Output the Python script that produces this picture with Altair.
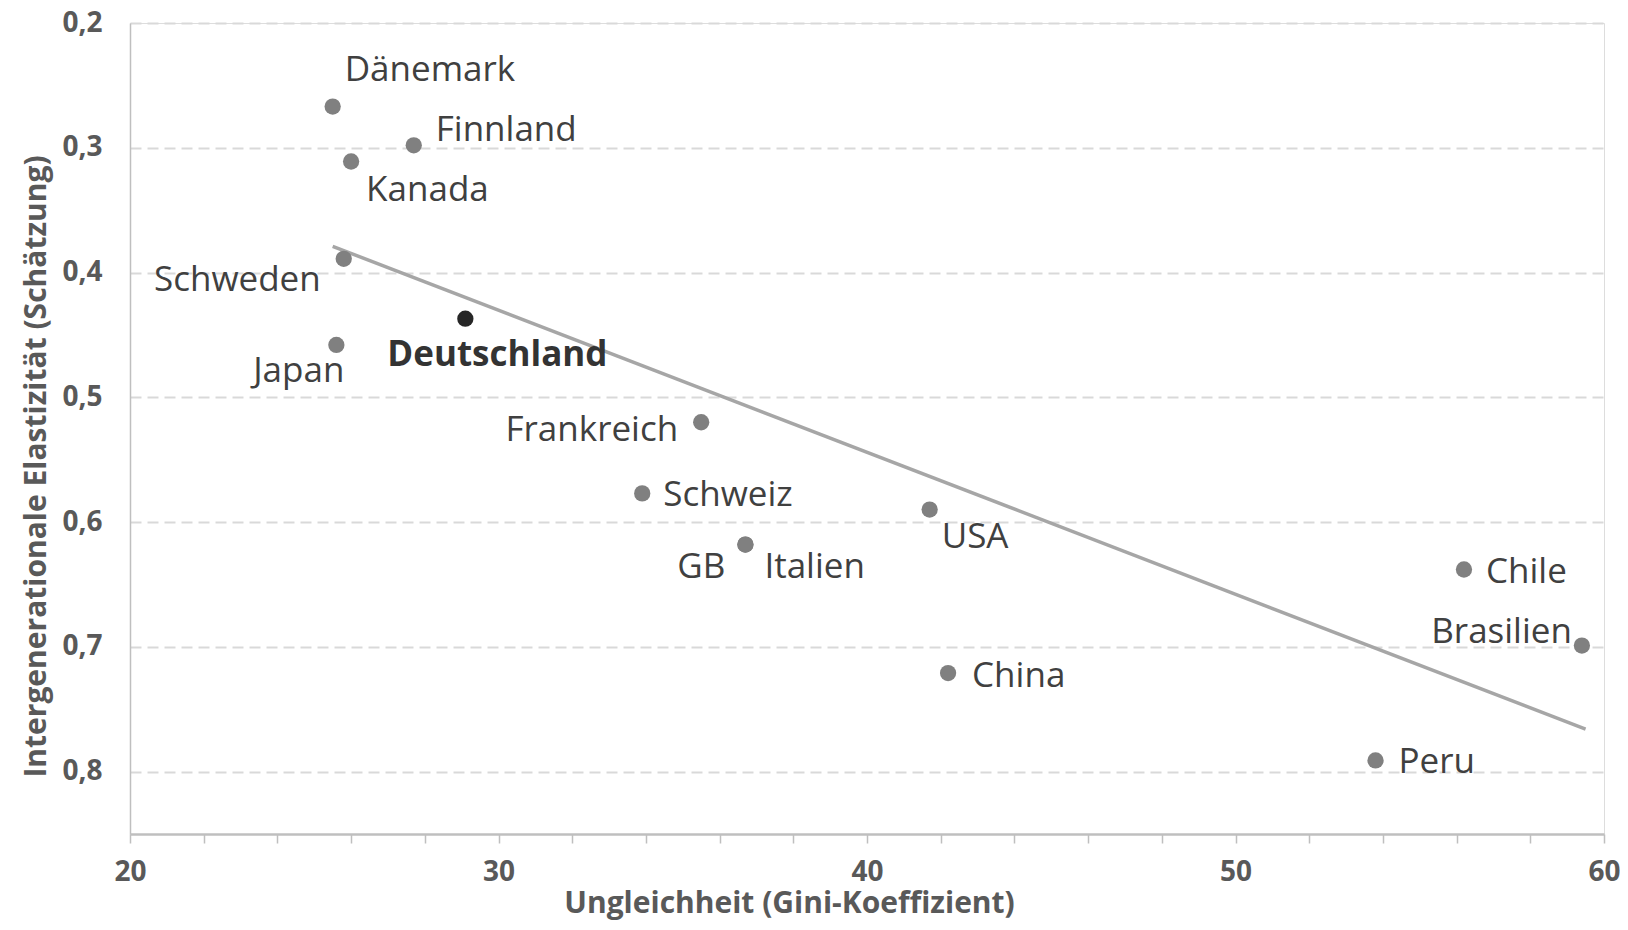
import altair as alt
import pandas as pd

# ---- data ----
countries = ["Dänemark", "Finnland", "Kanada", "Schweden", "Deutschland", "Japan",
             "Frankreich", "Schweiz", "USA", "GB", "Italien", "Chile", "Brasilien",
             "China", "Peru"]
gini = [25.5, 27.7, 26.0, 25.8, 29.1, 25.6, 35.5, 33.9, 41.7, 36.7, 36.7,
        56.2, 59.4, 42.2, 53.8]
elasticity = [0.267, 0.298, 0.311, 0.389, 0.437, 0.458, 0.520, 0.577, 0.590,
              0.618, 0.618, 0.638, 0.699, 0.721, 0.791]

trend_gini = [25.5, 59.5]
trend_elasticity = [0.379, 0.766]

x_ticks = list(range(20, 61, 2))
y_ticks = [0.2, 0.3, 0.4, 0.5, 0.6, 0.7, 0.8]

x_title = "Ungleichheit (Gini-Koeffizient)"
y_title = "Intergenerationale Elastizität (Schätzung)"
highlight = "Deutschland"

# ---- label placement (layout) ----
label_style = {
    "Dänemark": (12, -37, "left"),
    "Finnland": (22, -15, "left"),
    "Kanada": (15, 29, "left"),
    "Schweden": (-23, 21, "right"),
    "Deutschland": (-78, 36, "left"),
    "Japan": (8, 26, "right"),
    "Frankreich": (-23, 8, "right"),
    "Schweiz": (21, 2, "left"),
    "USA": (12, 27, "left"),
    "GB": (-20, 22, "right"),
    "Italien": (19, 22, "left"),
    "Chile": (22, 3, "left"),
    "Brasilien": (-10, -14, "right"),
    "China": (24, 3, "left"),
    "Peru": (23, 2, "left"),
}

df = pd.DataFrame({"country": countries, "gini": gini, "elasticity": elasticity})
df["is_de"] = df["country"] == highlight
trend = pd.DataFrame({"gini": trend_gini, "elasticity": trend_elasticity})

FONT = "Open Sans"
AXIS_COLOR = "#595959"

x_scale = alt.Scale(domain=[20, 60], nice=False, zero=False)
y_scale = alt.Scale(domain=[0.2, 0.85], reverse=True, nice=False, zero=False)

x_enc = alt.X("gini:Q", scale=x_scale, axis=alt.Axis(
    title=x_title, values=x_ticks,
    labelExpr="datum.value % 10 == 0 ? datum.label : ''",
    grid=False, domainColor="#bfbfbf", domainWidth=2.5,
    tickColor="#bfbfbf", tickWidth=1.5, tickSize=9,
    labelFont=FONT, labelFontSize=28, labelFontWeight="bold", labelColor=AXIS_COLOR,
    labelPadding=15, labelFlush=False,
    titleFont=FONT, titleFontSize=30, titleFontWeight="bold", titleColor=AXIS_COLOR,
    titlePadding=2, titleAnchor="start", titleAlign="center", titleX=659))
y_enc = alt.Y("elasticity:Q", scale=y_scale, axis=alt.Axis(
    title=y_title, values=y_ticks,
    labelExpr="replace(format(datum.value, '.1f'), '.', ',')",
    grid=True, gridColor="#d9d9d9", gridDash=[11, 6], gridWidth=2,
    domainColor="#bfbfbf", domainWidth=1.5, ticks=False,
    labelFont=FONT, labelFontSize=28, labelFontWeight="bold", labelColor=AXIS_COLOR,
    labelPadding=28, labelBaseline="middle",
    titleFont=FONT, titleFontSize=30, titleFontWeight="bold", titleColor=AXIS_COLOR,
    titlePadding=10, titleAlign="center", titleY=443))

base = alt.Chart(df)

line = alt.Chart(trend).mark_line(color="#a6a6a6", strokeWidth=3.5).encode(
    x=x_enc, y=y_enc)

points = base.mark_circle(size=265, opacity=1).encode(
    x=alt.X("gini:Q", scale=x_scale),
    y=alt.Y("elasticity:Q", scale=y_scale),
    color=alt.condition(alt.datum.is_de, alt.value("#262626"), alt.value("#808080")),
)

labels = []
for name, (dx, dy, align) in label_style.items():
    labels.append(
        base.transform_filter(alt.datum.country == name).mark_text(
            dx=dx, dy=dy, align=align, baseline="middle", font=FONT, fontSize=35,
            fontWeight="bold" if name == highlight else "normal",
            color="#404040" if name != highlight else "#333333",
        ).encode(
            x=alt.X("gini:Q", scale=x_scale),
            y=alt.Y("elasticity:Q", scale=y_scale),
            text="country:N",
        )
    )

chart = alt.layer(line, points, *labels).properties(
    width=1474, height=811,
    autosize=alt.AutoSizeParams(type="none"),
    padding={"left": 122, "top": 15, "right": 16, "bottom": 88},
).configure_view(stroke=None).configure(background="white")

chart.save("out.html", embed_options={"renderer": "svg", "actions": False})
